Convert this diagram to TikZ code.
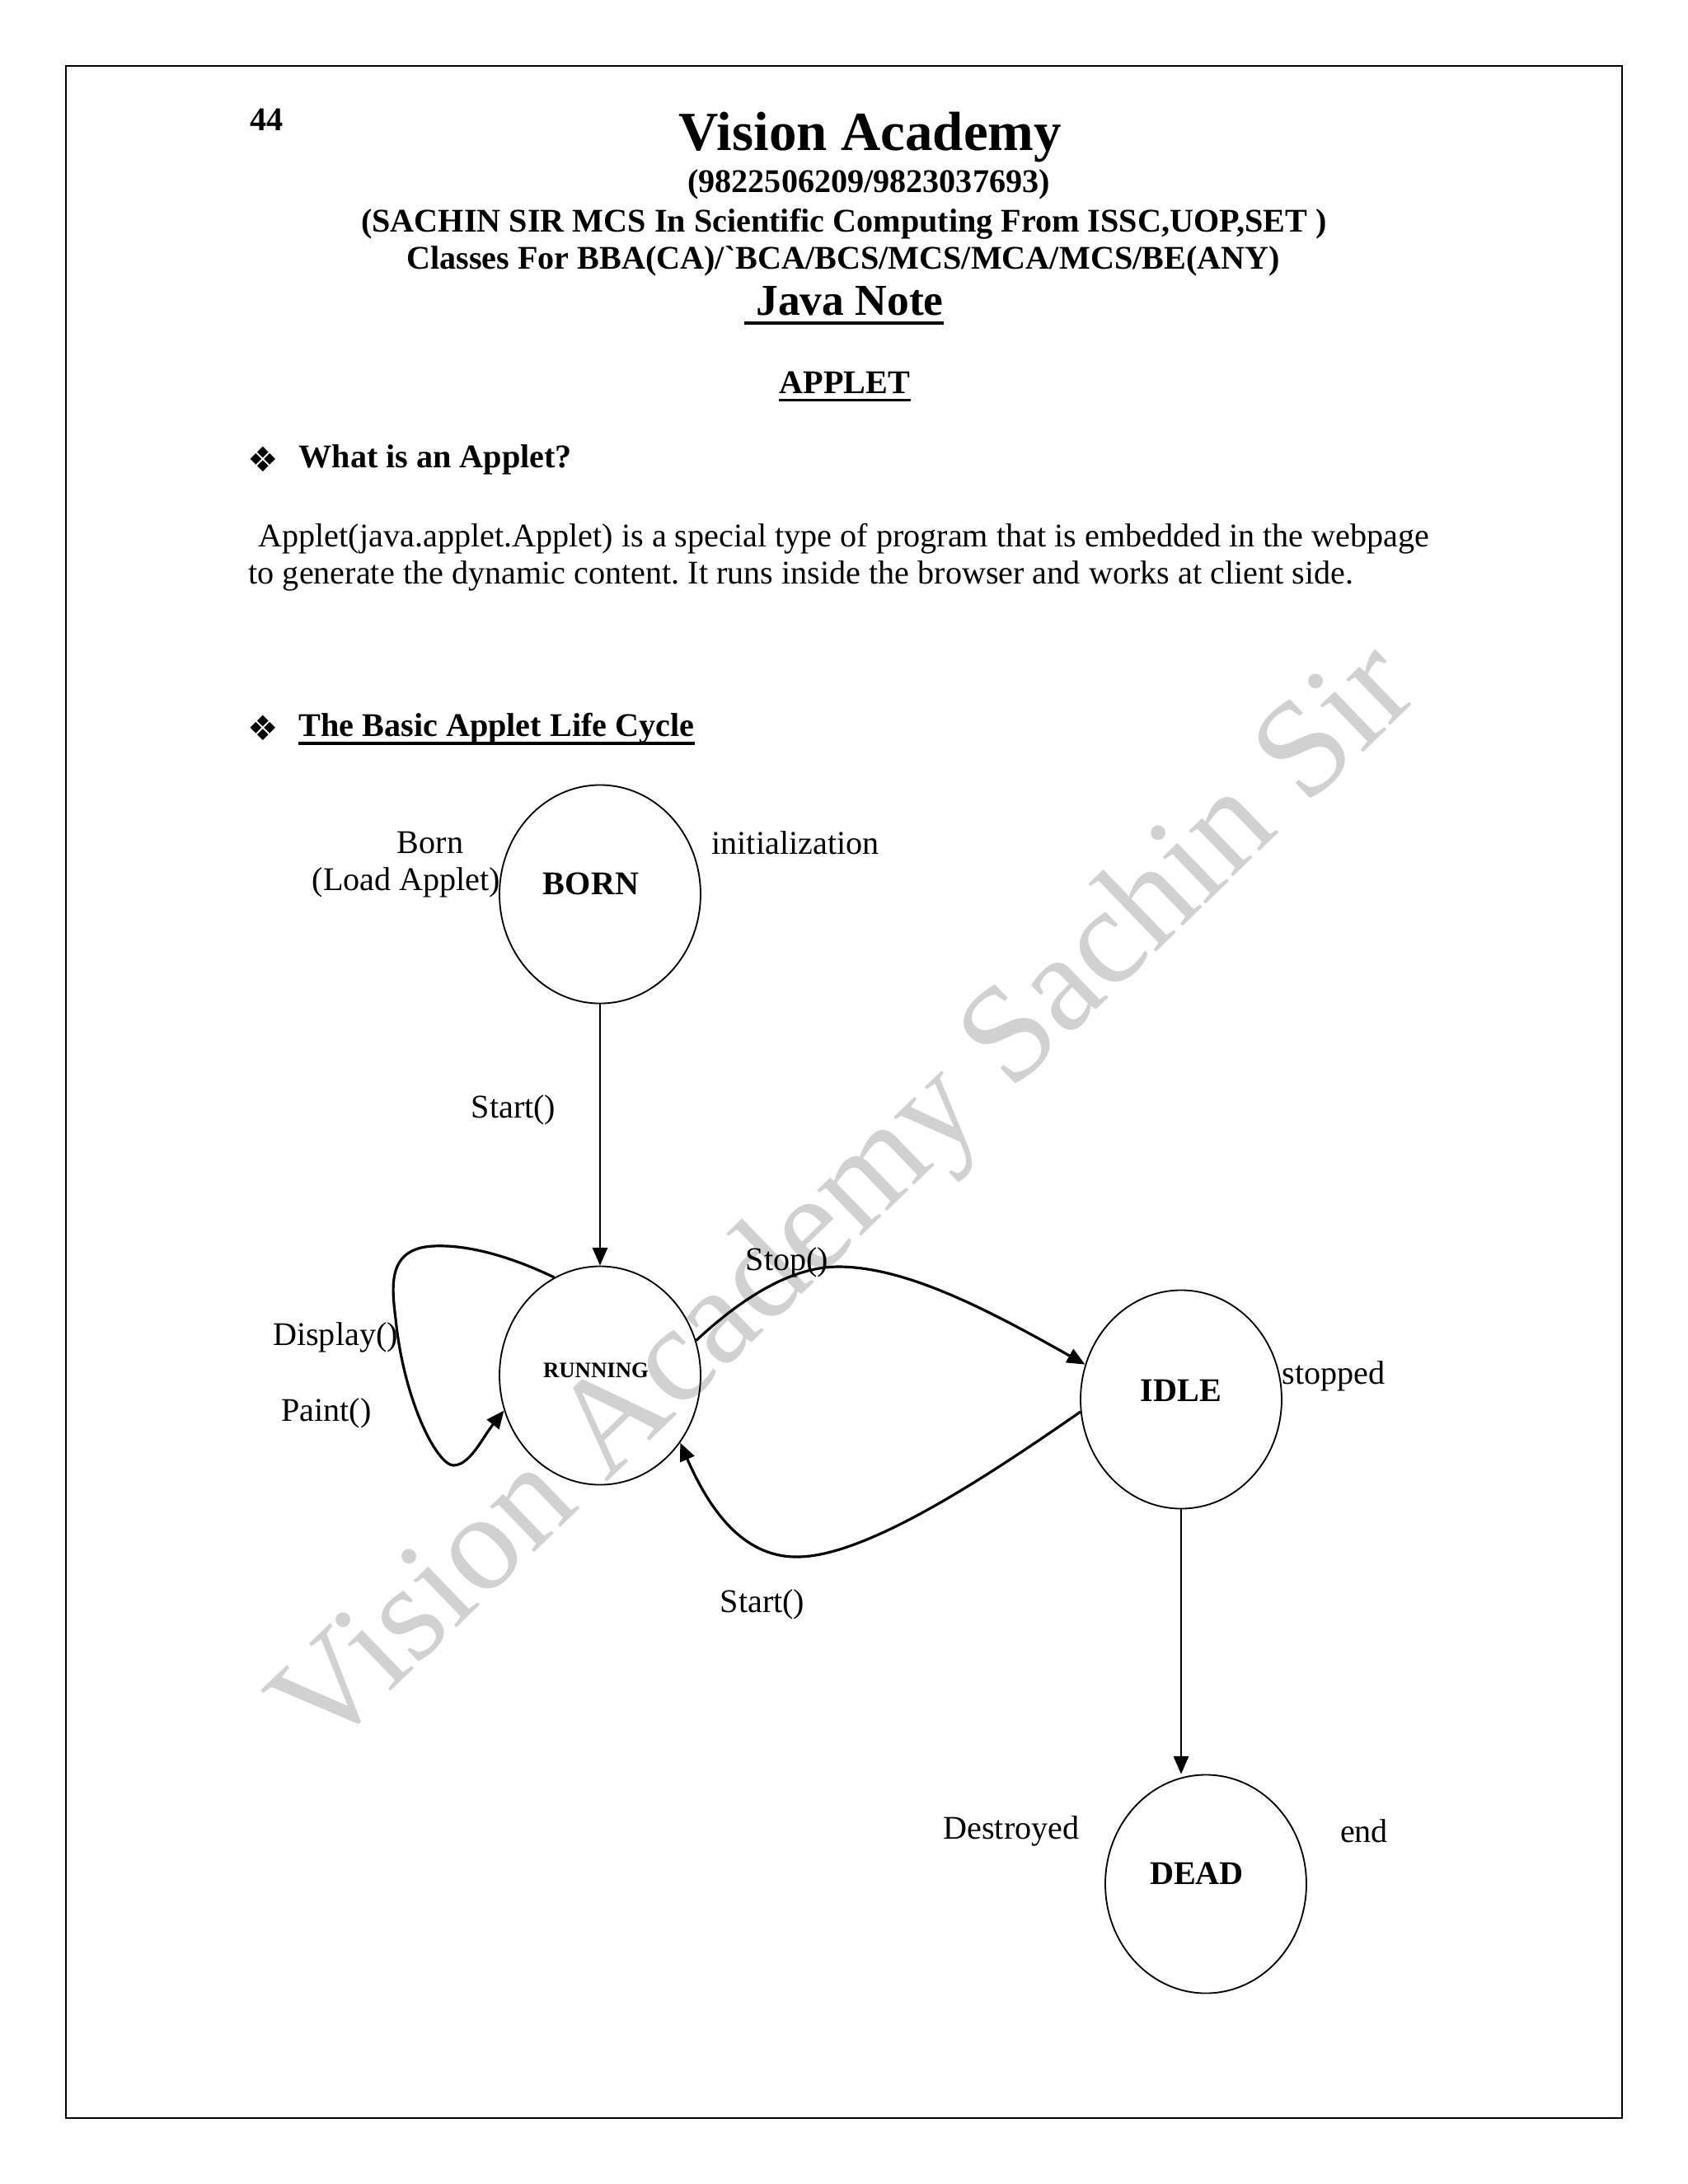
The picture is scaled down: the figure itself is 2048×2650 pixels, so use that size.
\documentclass[tikz,border=0pt]{standalone}
\usepackage{fontspec}
\setmainfont{Liberation Serif}
\newfontfamily\symfont{DejaVu Sans}
\usetikzlibrary{shapes.geometric,arrows.meta}
\frenchspacing
\begin{document}
\begin{tikzpicture}[x=0.29883pt,y=-0.29883pt,
  state/.style={draw,ellipse,line width=0.55pt,minimum width=72.9pt,minimum height=79.2pt,inner sep=0pt},
  lbl/.style={font=\fontsize{12}{14}\selectfont,inner sep=0pt},
  blbl/.style={font=\bfseries\fontsize{12}{14}\selectfont,inner sep=0pt},
  bullet/.style={font=\symfont\fontsize{12.5}{13}\selectfont,inner sep=0pt},
  conn/.style={line width=0.6pt,-{Triangle[length=6.5pt,width=5.5pt]}},
  curvearrow/.style={line width=0.95pt,-{Triangle[length=6.5pt,width=5.5pt]}},
  uline/.style={line width=1pt},
]
\useasboundingbox (0,0) rectangle (2048,2650);
\fill[white] (0,0) rectangle (2048,2650);
% watermark
\node[rotate=44,anchor=base west,text=black!18,font=\fontsize{50}{50}\selectfont,inner sep=0pt] (wm) at (391,2132) {Vision Academy Sachin Sir};
% page frame
\draw[line width=0.55pt] (80,80) rectangle (1968,2570);
% header
\node[blbl,anchor=base west] (pg) at (303,158) {44};
\node[font=\bfseries\fontsize{20}{24}\selectfont,anchor=base,inner sep=0pt] (title) at (1056,182) {Vision Academy};
\node[blbl,anchor=base] (phone) at (1054,233) {(9822506209/9823037693)};
\node[blbl,anchor=base] (sachin) at (1024,281) {(SACHIN SIR MCS In Scientific Computing From ISSC,UOP,SET )};
\node[blbl,anchor=base] (classes) at (1023,326) {Classes For BBA(CA)/\textasciigrave BCA/BCS/MCS/MCA/MCS/BE(ANY)};
\node[font=\bfseries\fontsize{16}{19}\selectfont,anchor=base,inner sep=0pt] (jn) at (1031,382) {Java Note};
\draw[line width=1.1pt] ([xshift=-4pt,yshift=-3pt]jn.base west) -- ([yshift=-3pt]jn.base east);
\node[blbl,anchor=base] (applet) at (1025,477) {APPLET};
\draw[uline] ([yshift=-2.5pt]applet.base west) -- ([yshift=-2.5pt]applet.base east);
% section 1
\node[bullet] (b1) at (319,557) {❖};
\node[blbl,anchor=base west] (q1) at (362,567) {What is an Applet?};
\node[lbl,anchor=base west] (p1) at (313,663) {Applet(java.applet.Applet) is a special type of program that is embedded in the webpage};
\node[lbl,anchor=base west] (p2) at (301,708) {to generate the dynamic content. It runs inside the browser and works at client side.};
% section 2
\node[bullet] (b2) at (319,883) {❖};
\node[blbl,anchor=base west] (q2) at (362,893) {The Basic Applet Life Cycle};
\draw[uline] ([yshift=-2.7pt]q2.base west) -- ([yshift=-2.7pt]q2.base east);
% states
\node[state] (born) at (728,1085) {};
\node[state] (run) at (728,1669) {};
\node[state] (idle) at (1433,1698) {};
\node[state] (dead) at (1463,2286) {};
\node[blbl] (bornt) at (717,1072) {BORN};
\node[font=\bfseries\fontsize{8}{9}\selectfont,inner sep=0pt] (runt) at (723,1663) {RUNNING};
\node[blbl] (idlet) at (1433,1687) {IDLE};
\node[blbl] (deadt) at (1452,2273) {DEAD};
% labels
\node[lbl] (bornl1) at (522,1023) {Born};
\node[lbl] (bornl2) at (493,1071) {(Load Applet)};
\node[lbl] (initl) at (965,1023) {initialization};
\node[lbl] (start1) at (623,1347) {Start()};
\node[lbl] (disp) at (407,1623) {Display()};
\node[lbl] (paint) at (396,1715) {Paint()};
\node[lbl] (stopl) at (955,1532) {Stop()};
\node[lbl] (stopped) at (1618,1670) {stopped};
\node[lbl] (start2) at (925,1947) {Start()};
\node[lbl] (destr) at (1227,2222) {Destroyed};
\node[lbl] (endl) at (1655,2222) {end};
% waypoints
\coordinate (stoppeak) at (1017,1537);
\coordinate (backlow) at (966,1889);
\coordinate (looptop) at (525,1512);
\coordinate (loopleft) at (480,1600);
\coordinate (loopbot) at (550,1778);
% connectors
\draw[conn] (born) -- (run);
\draw[conn] (idle) -- (idle |- dead.north);
\draw[curvearrow] (run.20) .. controls (900,1575) and (960,1537) .. (stoppeak)
  .. controls (1100,1537) and (1200,1590) .. (idle.160);
\draw[curvearrow] (idle.187) .. controls (1200,1790) and (1050,1890) .. (backlow)
  .. controls (900,1889) and (860,1830) .. (run.320);
\draw[curvearrow] (run.115) .. controls (610,1520) and (560,1510) .. (looptop)
  .. controls (470,1515) and (475,1560) .. (loopleft)
  .. controls (490,1700) and (530,1777) .. (loopbot)
  .. controls (570,1778) and (585,1745) .. (run.200);
\end{tikzpicture}
\end{document}
